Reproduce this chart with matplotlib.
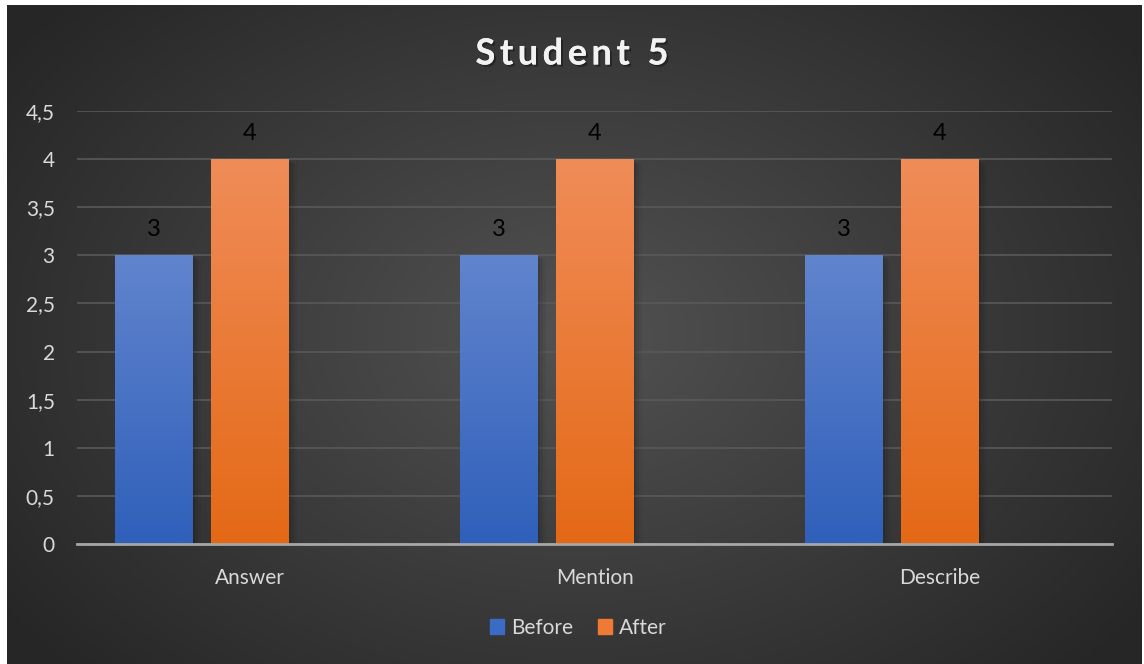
import numpy as np
import matplotlib
matplotlib.use("Agg")
import matplotlib.pyplot as plt
from matplotlib.patches import Rectangle
import matplotlib.patheffects as pe

categories = ["Answer", "Mention", "Describe"]
before = [3, 3, 3]
after = [4, 4, 4]
series_names = ["Before", "After"]
yticks = [0, 0.5, 1, 1.5, 2, 2.5, 3, 3.5, 4, 4.5]
ytick_labels = ["0", "0,5", "1", "1,5", "2", "2,5", "3", "3,5", "4", "4,5"]
title = "Student 5"

plt.rcParams['font.family'] = ['Lato', 'DejaVu Sans']

W, H = 1144, 664
fig = plt.figure(figsize=(W / 100, H / 100), dpi=100)
fig.patch.set_facecolor('white')

# background radial gradient
bg = fig.add_axes([7 / W, 0, (1142 - 7) / W, 1 - 5 / H], zorder=0)
yy, xx = np.mgrid[0:1:300j, 0:1:500j]
r = np.sqrt(((xx - 0.5) / 0.62) ** 2 + ((yy - 0.5) / 0.75) ** 2)
r = np.clip(r, 0, 1)
c0 = np.array([0x52, 0x52, 0x52]) / 255
c1 = np.array([0x26, 0x26, 0x26]) / 255
img = c0[None, None, :] * (1 - r[..., None]) + c1[None, None, :] * r[..., None]
bg.imshow(img, aspect='auto', extent=[0, 1, 0, 1], interpolation='bilinear')
bg.set_axis_off()

ax = fig.add_axes([77 / W, 1 - 544 / H, (1112 - 77) / W, (544 - 111) / H], zorder=1)
ax.set_facecolor('none')

x = np.arange(len(categories))
width = 0.226
step = 0.278
b1 = ax.bar(x - step, before, width, color='none', zorder=3)
b2 = ax.bar(x, after, width, color='none', zorder=3)

def grad_fill(bars, top_col, bot_col):
    top = np.array(matplotlib.colors.to_rgb(top_col))
    bot = np.array(matplotlib.colors.to_rgb(bot_col))
    t = np.linspace(0, 1, 100)[:, None]
    g = (top * (1 - t) + bot * t)[:, None, :]
    for p in bars.patches:
        x0, y0 = p.get_x(), p.get_y()
        w, h = p.get_width(), p.get_height()
        for k, a in enumerate([0.10, 0.07, 0.04]):
            d = 0.004 * (k + 1)
            ax.add_patch(Rectangle((x0 + d, y0), w + d, h - d * 4, color='black',
                                   alpha=a, lw=0, zorder=2))
        ax.imshow(g, extent=[x0, x0 + w, y0, y0 + h], aspect='auto', zorder=3,
                  interpolation='bilinear')

grad_fill(b1, '#6184CD', '#2F60BA')
grad_fill(b2, '#F08C58', '#E46916')

for bars in (b1, b2):
    ax.bar_label(bars, labels=[str(v) for v in bars.datavalues], padding=11,
                 color='black', fontsize=17, zorder=5)

ax.set_xlim(-0.5, len(categories) - 0.5)
ax.set_ylim(0, 4.5)
ax.set_yticks(yticks)
ax.set_yticklabels(ytick_labels)
ax.set_xticks(x)
ax.set_xticklabels(categories)
ax.tick_params(axis='y', length=0, pad=16, labelsize=15, labelcolor='#D9D9D9')
ax.tick_params(axis='x', length=0, pad=17, labelsize=15, labelcolor='#D9D9D9')
ax.grid(axis='y', color='#595959', lw=1.2, zorder=1)
ax.set_axisbelow(True)
for s in ['top', 'right', 'left']:
    ax.spines[s].set_visible(False)
ax.spines['bottom'].set_color('#A6A6A6')
ax.spines['bottom'].set_linewidth(2)
ax.spines['bottom'].set_zorder(4)

# title with letter spacing
fig.canvas.draw()
renderer = fig.canvas.get_renderer()
tkw = dict(fontsize=26, fontweight='bold', color='#F2F2F2', va='center', ha='left',
           path_effects=[pe.withSimplePatchShadow(offset=(1.5, -1.5), shadow_rgbFace='black', alpha=0.35), pe.Normal()])
tracking = 4.5  # px between letters
widths = []
for ch in title:
    if ch == ' ':
        tt = fig.text(0, 0, 'a b', **tkw)
        w_ab = tt.get_window_extent(renderer).width
        tt.remove()
        tt = fig.text(0, 0, 'ab', **tkw)
        w_ab2 = tt.get_window_extent(renderer).width
        tt.remove()
        widths.append(w_ab - w_ab2)
    else:
        tt = fig.text(0, 0, ch, **tkw)
        widths.append(tt.get_window_extent(renderer).width)
        tt.remove()
total = sum(widths) + tracking * (len(title) - 1)
cx = 572
xpos = cx - total / 2
ty = 1 - 54 / H
for ch, w in zip(title, widths):
    if ch != ' ':
        fig.text(xpos / W, ty, ch, **tkw)
    xpos += w + tracking

handles = [Rectangle((0, 0), 1, 1, color='#3A6CC6'), Rectangle((0, 0), 1, 1, color='#EE7A35')]
fig.legend(handles, series_names, loc='center', bbox_to_anchor=(578 / W, 1 - 628 / H),
           ncol=2, frameon=False, fontsize=15, labelcolor='#D9D9D9',
           handlelength=0.7, handleheight=0.7, handletextpad=0.3, columnspacing=1.2)

fig.savefig('out.png', dpi=100, facecolor=fig.get_facecolor())
